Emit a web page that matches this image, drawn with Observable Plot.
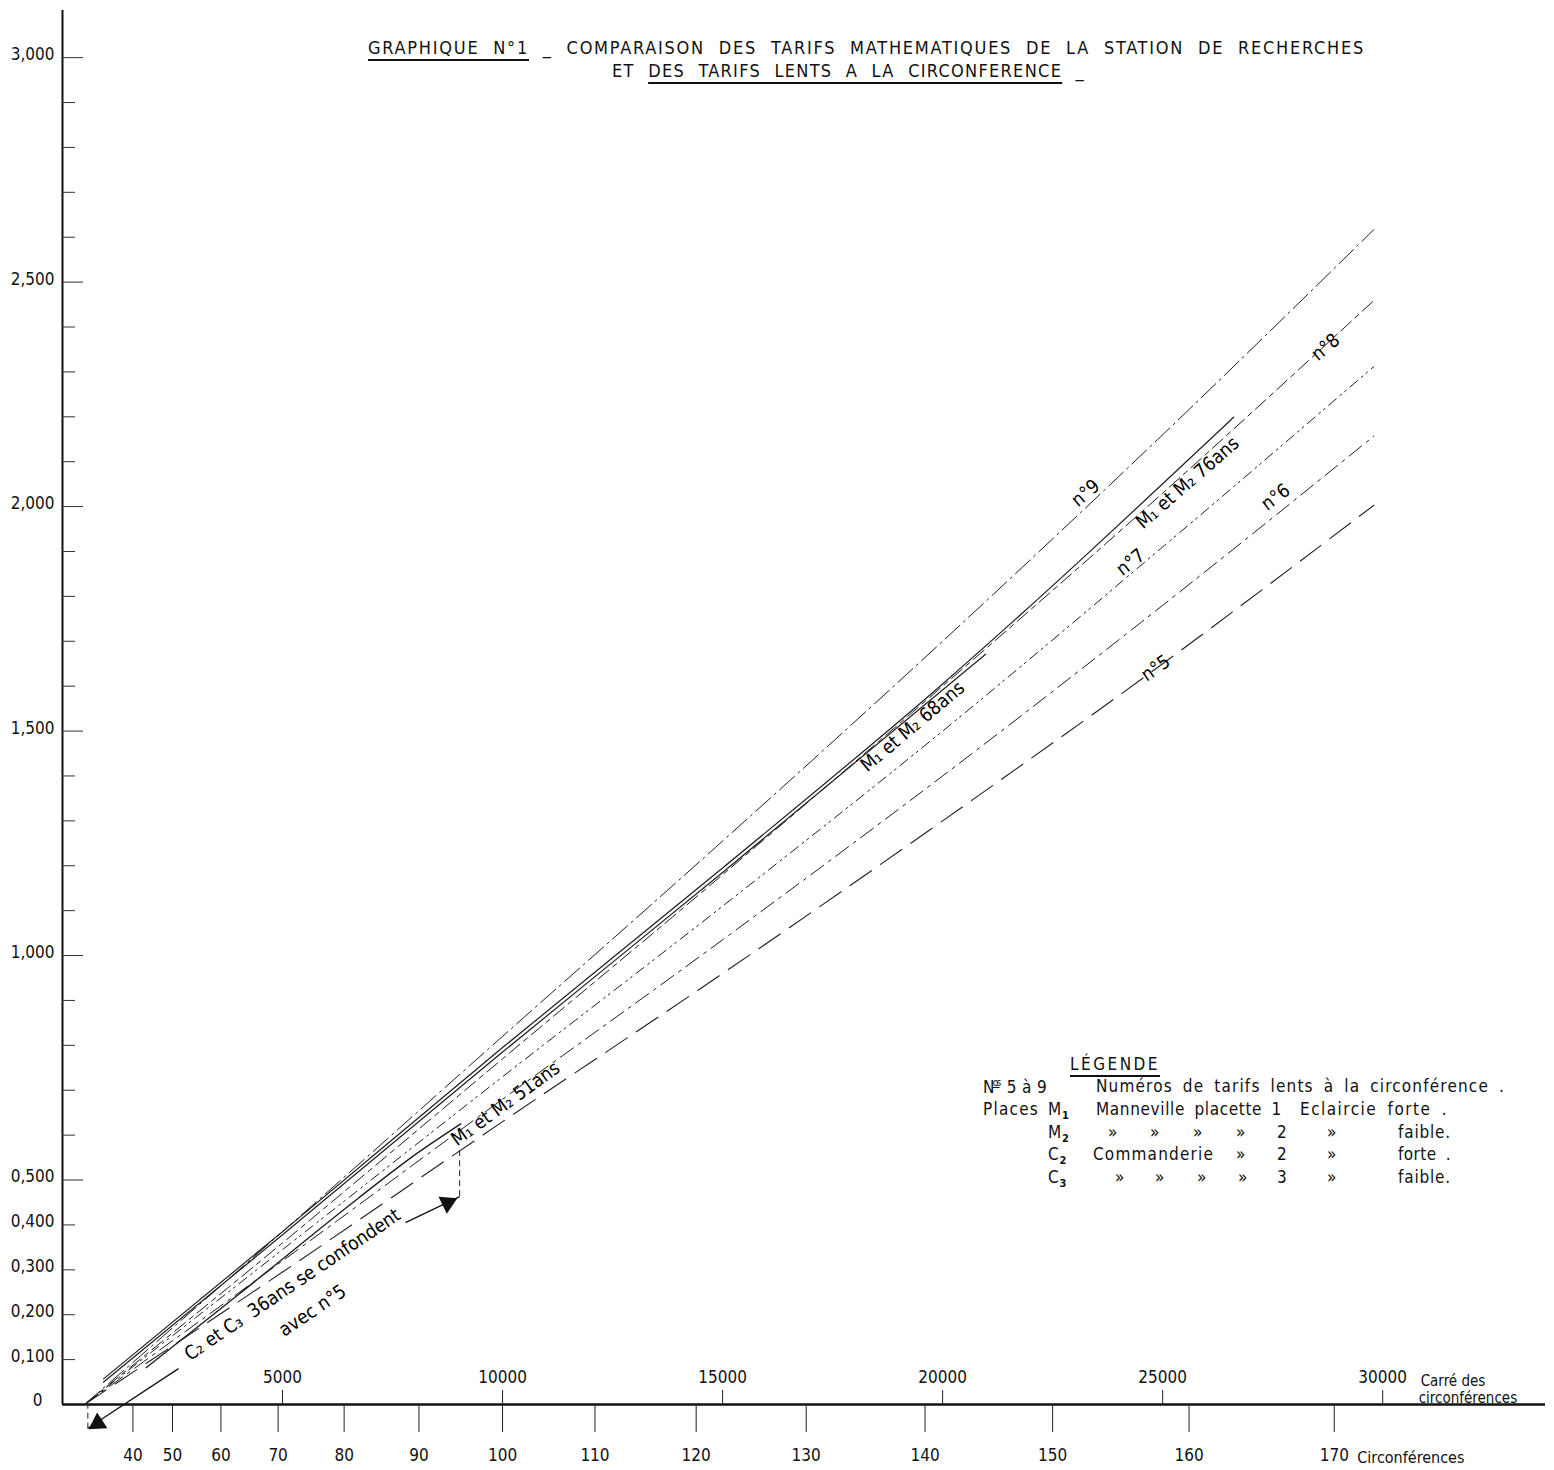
<!DOCTYPE html>
<html>
<head>
<meta charset="utf-8">
<script src="https://cdn.jsdelivr.net/npm/d3@7"></script>
<script src="https://cdn.jsdelivr.net/npm/@observablehq/plot@0.6"></script>
<style>
  body { margin: 0; background: #fff; }
  #wrap { position: relative; width: 1554px; height: 1470px; overflow: hidden;
    font-family: "DejaVu Sans Condensed", "Liberation Sans Narrow", "DejaVu Sans", sans-serif;
    font-stretch: condensed; color: #111; }
  #wrap svg { position: absolute; left: 0; top: 0; }
  .t { position: absolute; white-space: pre; line-height: 1; }
  .u { text-decoration: underline; text-underline-offset: 5px; text-decoration-thickness: 1.5px; }
  .lg { font-size: 17px; letter-spacing: 0.7px; }
  sub { font-size: 11px; vertical-align: -4px; font-weight: bold; }
</style>
</head>
<body>
<div id="wrap"></div>
<script>
// ---------------- DATA ----------------
// x: square of circumference (C²), y: volume (m³)
const tarifC2 = [500, 5000, 10000, 15000, 20000, 25000, 29800];
const tarif5 = [0, 0.295, 0.63, 0.96, 1.30, 1.65, 2.003];
const tarif6 = [0, 0.32, 0.68, 1.035, 1.40, 1.78, 2.157];
const tarif7 = [0, 0.345, 0.73, 1.11, 1.50, 1.91, 2.312];
const tarif8 = [0, 0.36, 0.77, 1.18, 1.60, 2.03, 2.459];
const tarif9 = [0, 0.385, 0.82, 1.255, 1.70, 2.16, 2.617];

const m51C2 = [1900, 4000, 6715, 7922, 9050];
const m51V  = [0.082, 0.245, 0.459, 0.55, 0.625];
const m68C2 = [933, 5000, 10000, 15000, 20977];
const m68V  = [0.05, 0.378, 0.785, 1.185, 1.671];
const m76C2 = [933, 5000, 10000, 15000, 20000, 26614];
const m76V  = [0.057, 0.385, 0.795, 1.195, 1.605, 2.199];

const yLabelValues = [0.1, 0.2, 0.3, 0.4, 0.5, 1, 1.5, 2, 2.5, 3];
const yLabels = ["0,100", "0,200", "0,300", "0,400", "0,500", "1,000", "1,500", "2,000", "2,500", "3,000"];
const zeroLabel = "0";
const c2TickValues = [5000, 10000, 15000, 20000, 25000, 30000];
const c2TickLabels = ["5000", "10000", "15000", "20000", "25000", "30000"];
const circValues = [40, 50, 60, 70, 80, 90, 100, 110, 120, 130, 140, 150, 160, 170];
const circLabels = ["40", "50", "60", "70", "80", "90", "100", "110", "120", "130", "140", "150", "160", "170"];

// line labels (text, position in data units, angle)
const labelTexts = ["n°9", "M₁ et M₂ 76ans", "n°8", "n°7", "n°6", "n°5", "M₁ et M₂ 68ans", "M₁ et M₂ 51ans", "C₂ et C₃  36ans se confondent", "avec n°5"];
const labelC2 = [23250, 25568, 28705, 24273, 27568, 24841, 19318, 10068, 5227, 5682];
const labelV  = [2.030, 2.053, 2.355, 1.876, 2.021, 1.640, 1.510, 0.670, 0.267, 0.209];
const labelAngle = [-40, -41, -40, -38, -37, -35, -40, -36, -34, -34];

// annotation: range where C2/C3 36 ans coincide with n°5 (circumference 24 → 95)
const rangeC2 = [576, 9025];

// ---------------- BUILD ----------------
const series = [
  {key: "n°9", xs: tarifC2, ys: tarif9, dash: "20,5,2,5", w: 1},
  {key: "n°8", xs: tarifC2, ys: tarif8, dash: "14,5,5,5", w: 1},
  {key: "n°7", xs: tarifC2, ys: tarif7, dash: "10,5,2,4,2,5", w: 1},
  {key: "n°6", xs: tarifC2, ys: tarif6, dash: "16,6,3,6", w: 1},
  {key: "n°5", xs: tarifC2, ys: tarif5, dash: "26,11", w: 1.1},
  {key: "M51", xs: m51C2, ys: m51V, dash: null, w: 1.4},
  {key: "M68", xs: m68C2, ys: m68V, dash: null, w: 1.2},
  {key: "M76", xs: m76C2, ys: m76V, dash: null, w: 1.2}
];

const W = 1554, H = 1470;
const FONT = "'DejaVu Sans Condensed','Liberation Sans Narrow','DejaVu Sans',sans-serif";
const minorTicks = d3.range(1, 31).map(i => i / 10).filter(v => Math.round(v * 10) % 5 !== 0);
const majorTicks = [0.5, 1, 1.5, 2, 2.5, 3];
const labels = labelTexts.map((t, i) => ({t, x: labelC2[i], y: labelV[i], r: labelAngle[i]}));

const marks = [
  Plot.ruleX([0], {stroke: "#111", strokeWidth: 2}),
  Plot.ruleY([0], {stroke: "#111", strokeWidth: 2.4}),
  Plot.ruleY(minorTicks, {y: d => d, x1: 0, x2: 0, insetRight: -13, stroke: "#333", strokeWidth: 1}),
  Plot.ruleY(majorTicks, {y: d => d, x1: 0, x2: 0, insetRight: -21, stroke: "#333", strokeWidth: 1}),
  Plot.ruleX(c2TickValues, {x: d => d, y1: 0, y2: 0, insetBottom: 14, stroke: "#222", strokeWidth: 1}),
  Plot.ruleX(circValues, {x: c => c * c, y1: 0, y2: 0, insetTop: 28, stroke: "#222", strokeWidth: 1}),
  Plot.text(yLabelValues, {x: 0, y: d => d, text: (d, i) => yLabels[i], textAnchor: "end", dx: -8, dy: -3, fontSize: 17}),
  Plot.text([0], {x: 0, y: d => d, text: () => zeroLabel, textAnchor: "end", dx: -20, dy: -4, fontSize: 17}),
  Plot.text(c2TickValues, {x: d => d, y: 0, text: (d, i) => c2TickLabels[i], dy: -27, fontSize: 17}),
  Plot.text(circValues, {x: c => c * c, y: 0, text: (d, i) => circLabels[i], dy: 51, fontSize: 17}),
  Plot.text(["Carré des"], {x: 30000, y: 0, text: d => d, textAnchor: "start", dx: 38, dy: -23, fontSize: 15}),
  Plot.text(["circonférences"], {x: 30000, y: 0, text: d => d, textAnchor: "start", dx: 36, dy: -6, fontSize: 15}),
  Plot.text(["Circonférences"], {x: 170 * 170, y: 0, text: d => d, textAnchor: "start", dx: 23, dy: 53, fontSize: 16})
];

for (const s of series) {
  const rows = s.xs.map((x, i) => ({x, y: s.ys[i]}));
  marks.push(Plot.line(rows, {x: "x", y: "y", curve: "monotone-x", stroke: "#1e1e1e",
    strokeWidth: s.w, strokeDasharray: s.dash || undefined}));
}

marks.push(Plot.text(labels, {x: "x", y: "y", text: "t", rotate: "r", fontSize: 19, fill: "#000"}));

// annotation arrows / dashed markers
const n5At = tarif5[1] + (rangeC2[1] - tarifC2[1]) / (tarifC2[2] - tarifC2[1]) * (tarif5[2] - tarif5[1]);
marks.push(
  Plot.ruleX([rangeC2[1]], {x: d => d, y1: 0.463, y2: n5At, stroke: "#222", strokeDasharray: "6,4"}),
  Plot.ruleX([rangeC2[0]], {x: d => d, y1: -0.055, y2: 0, stroke: "#222", strokeDasharray: "6,4"}),
  Plot.link([{x1: 7795, y1: 0.405, x2: rangeC2[1], y2: 0.463}], {x1: "x1", y1: "y1", x2: "x2", y2: "y2", stroke: "#111", strokeWidth: 1.3}),
  Plot.link([{x1: 2636, y1: 0.080, x2: rangeC2[0], y2: -0.053}], {x1: "x1", y1: "y1", x2: "x2", y2: "y2", stroke: "#111", strokeWidth: 1.3}),
  Plot.dot([{x: 8750, y: 0.449}], {x: "x", y: "y", symbol: "triangle", r: 7, fill: "#111", rotate: 64}),
  Plot.dot([{x: 800, y: -0.042}], {x: "x", y: "y", symbol: "triangle", r: 7, fill: "#111", rotate: -123})
);

const chart = Plot.plot({
  width: W, height: H,
  marginLeft: 62, marginRight: 9, marginTop: 10, marginBottom: 66,
  x: {domain: [0, 33700], axis: null},
  y: {domain: [0, 3.105], axis: null},
  style: {background: "white", fontFamily: FONT, fontSize: "17px", color: "#111"},
  marks
});

const wrap = document.getElementById("wrap");
wrap.appendChild(chart);

// ---------------- Title and legend (HTML) ----------------
function addText(html, left, top, cls, fontSize, fitWidth, wordSpacing) {
  const el = document.createElement("div");
  el.className = "t " + (cls || "");
  el.style.left = left + "px";
  el.style.top = top + "px";
  if (fontSize) el.style.fontSize = fontSize + "px";
  if (wordSpacing) el.style.wordSpacing = wordSpacing + "px";
  el.innerHTML = html;
  wrap.appendChild(el);
  if (fitWidth) {
    el.style.letterSpacing = "0px";
    const w = el.getBoundingClientRect().width;
    const n = el.textContent.length;
    el.style.letterSpacing = ((fitWidth - w) / n) + "px";
  }
  return el;
}

addText('<span class="u">GRAPHIQUE N°1</span> _ COMPARAISON DES TARIFS MATHEMATIQUES DE LA STATION DE RECHERCHES',
  368, 39, "", 18, 997, 7);
addText('ET <span class="u">DES TARIFS LENTS A LA CIRCONFERENCE</span> _', 612, 62, "", 18, 473, 7);

addText('<span class="u">LÉGENDE</span>', 1070, 1056, "lg", null, 90, null);
const rows = [
  [[983, "N<sup style=\"font-size:10px;text-decoration:underline\">os</sup> 5 à 9", 62], [1096, "Numéros de tarifs lents à la circonférence .", 409]],
  [[983, "Places", 56], [1048, "M<sub>1</sub>", null], [1096, "Manneville placette 1", 186], [1300, "Eclaircie forte .", 148]],
  [[1048, "M<sub>2</sub>", null], [1108, "»", null], [1150, "»", null], [1193, "»", null], [1236, "»", null], [1277, "2", null], [1327, "»", null], [1398, "faible.", 53]],
  [[1048, "C<sub>2</sub>", null], [1093, "Commanderie", 121], [1236, "»", null], [1277, "2", null], [1327, "»", null], [1398, "forte .", 53]],
  [[1048, "C<sub>3</sub>", null], [1115, "»", null], [1155, "»", null], [1197, "»", null], [1238, "»", null], [1277, "3", null], [1327, "»", null], [1398, "faible.", 53]]
];
const rowTops = [1078, 1101, 1124, 1146, 1169];
rows.forEach((r, i) => r.forEach(([x, h, fw]) => addText(h, x, rowTops[i], "lg", null, fw, 4)));
</script>
</body>
</html>
